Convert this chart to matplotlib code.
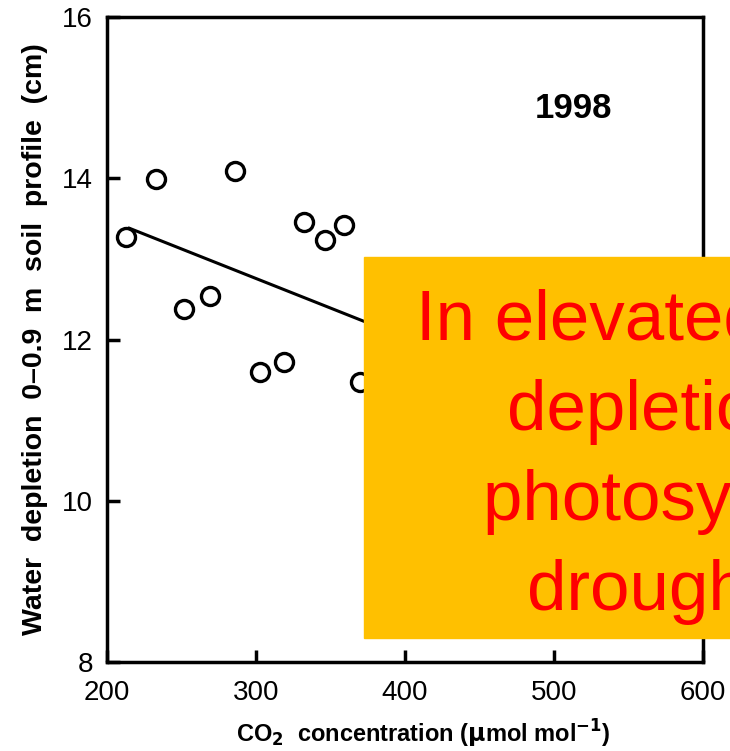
import numpy as np
import matplotlib
matplotlib.use("Agg")
import matplotlib.pyplot as plt
from matplotlib.patches import Rectangle

plt.rcParams['font.family'] = ['Liberation Sans', 'DejaVu Sans']

# CO2 vs water depletion, 1998 (points visible outside the overlay box)
co2 = [213, 233, 252, 269, 286, 303, 319, 332, 346, 359, 370]
depletion = [13.27, 13.99, 12.38, 12.54, 14.09, 11.60, 11.72, 13.46, 13.23, 13.42, 11.47]

# regression line end points
line_x = [215, 560]
line_y = [13.38, 10.85]

box_lines = ["In elevated CO2, soil water",
             "depletion slows, so",
             "photosynthesis continues",
             "drought"]
box_x = [416, 507, 483, 527]

fig = plt.figure(figsize=(7.30, 7.51), dpi=100)
ax = fig.add_axes([107/730, 1-662/751, 596/730, 645/751])

ax.plot(line_x, line_y, color='black', lw=2.2)
ax.plot(co2, depletion, 'o', mfc='white', mec='black', ms=13, mew=2.4)

ax.set_xlim(200, 600)
ax.set_ylim(8, 16)
ax.set_xticks([200, 300, 400, 500, 600])
ax.set_yticks([8, 10, 12, 14, 16])
ax.tick_params(direction='in', length=9, width=2.5, labelsize=20)
ax.tick_params(axis='x', pad=13)
ax.tick_params(axis='y', pad=10)
for s in ax.spines.values():
    s.set_linewidth(2.5)

ax.set_xlabel(r"CO$_\mathbf{2}$  concentration ($\mathbf{\mu}$mol mol$^{\mathbf{-1}}$)",
              fontsize=17, fontweight='bold')
ax.xaxis.set_label_coords(0.53, -0.086)
ax.set_ylabel("Water  depletion  0\u20130.9  m  soil  profile  (cm)",
              fontsize=20.5, fontweight='bold', labelpad=10)

ax.text(0.783, 0.858, "1998", transform=ax.transAxes, fontsize=25,
        fontweight='bold', ha='center', va='center')

# overlay box
fig.patches.append(Rectangle((364/730, 1-638/751), 400/730, (638-257)/751,
                             transform=fig.transFigure, color='#FFC000', zorder=5))
for i, (t, x) in enumerate(zip(box_lines, box_x)):
    fig.text(x/730, 1-(340+90*i)/751, t, color='#FF0000', fontsize=51,
             ha='left', va='baseline', zorder=6)

fig.savefig("out.png", dpi=100)
